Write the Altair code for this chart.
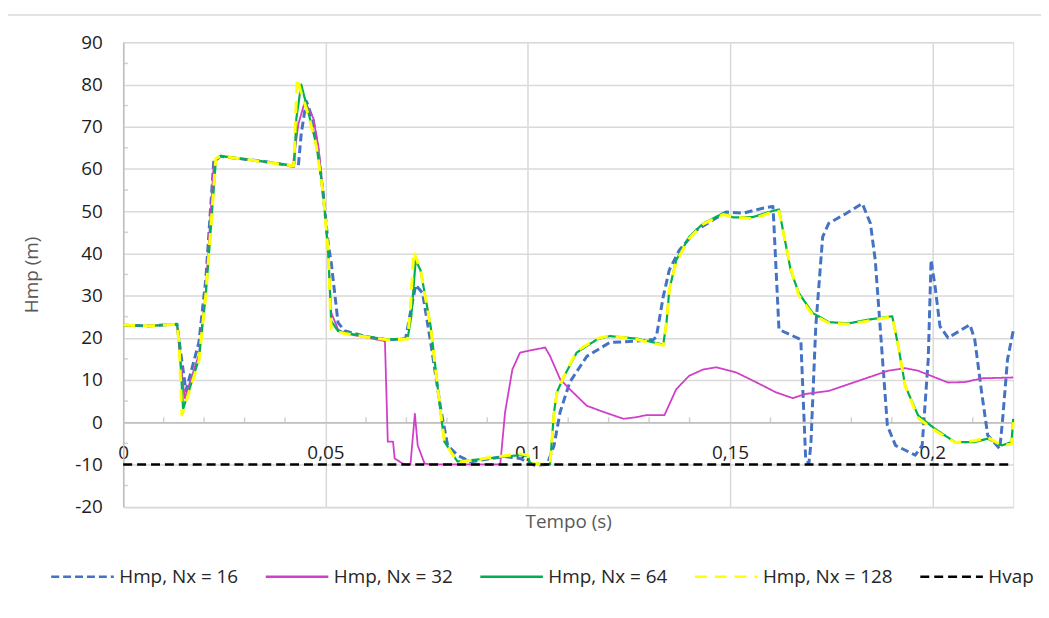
import altair as alt
import pandas as pd

FONT = "Open Sans"
FS = 19

names = ["Hmp, Nx = 16", "Hmp, Nx = 32", "Hmp, Nx = 64", "Hmp, Nx = 128", "Hvap"]
colors = ["#4472C4", "#D03FC8", "#00B050", "#FFFF00", "#000000"]
dashes = [[8, 4], [1, 0], [1, 0], [12, 8], [9, 5]]
widths = [3, 1.8, 2.2, 3, 2.5]

x_ticks = [0, 0.05, 0.1, 0.15, 0.2]
x_minor = [0.01, 0.02, 0.03, 0.04, 0.06, 0.07, 0.08, 0.09, 0.11, 0.12, 0.13, 0.14,
           0.16, 0.17, 0.18, 0.19, 0.21]
y_ticks = [-20, -10, 0, 10, 20, 30, 40, 50, 60, 70, 80, 90]
y_minor = [-15, -5, 5, 15, 25, 35, 45, 55, 65, 75, 85]

t16 = [0, 0.006, 0.0133, 0.0140, 0.0155, 0.0187, 0.0204, 0.0224, 0.0241, 0.030,
       0.036, 0.0421, 0.0433, 0.0440, 0.0450, 0.0453, 0.0470, 0.0482, 0.0494, 0.0507,
       0.0514, 0.0531, 0.0548, 0.060, 0.0654, 0.0698, 0.0710, 0.0723, 0.0740, 0.0760,
       0.0785, 0.0802, 0.0826, 0.0858, 0.0942, 0.0981, 0.1016, 0.1048, 0.1065, 0.1080,
       0.1104, 0.1146, 0.1203, 0.1269, 0.1311, 0.1318, 0.1335, 0.1350, 0.1375, 0.1417,
       0.1490, 0.1532, 0.1581, 0.1606, 0.1608, 0.1621, 0.1638, 0.1675, 0.1687, 0.1695,
       0.1700, 0.1712, 0.1729, 0.1744, 0.1786, 0.1827, 0.1847, 0.1859, 0.1877, 0.1889,
       0.1909, 0.1958, 0.1975, 0.1990, 0.1997, 0.2007, 0.2019, 0.2039, 0.2093, 0.2105,
       0.2122, 0.2137, 0.2167, 0.2174, 0.2186, 0.22]
h16 = [23.0, 22.8, 23.2, 18.0, 7.4, 18.9, 33.7, 62.0, 63.0, 62.3,
       61.6, 60.6, 60.8, 68.3, 74.5, 76.0, 71.4, 64.3, 54.1, 42.0,
       38.0, 23.6, 21.6, 20.3, 19.5, 19.8, 26.0, 32.5, 30.6, 18.9,
       3.1, -5.5, -7.8, -9.4, -8.1, -8.6, -10.2, -10.0, -5.5, 2.4,
       9.5, 15.6, 18.9, 19.2, 19.6, 20.3, 29.8, 36.1, 40.8, 45.5,
       49.8, 49.5, 50.7, 51.1, 47.8, 22.0, 21.2, 19.6, -8.6, -9.8,
       -5.0, 22.7, 43.9, 47.1, 49.4, 51.8, 47.1, 38.4, 14.9, -0.8,
       -5.5, -7.8, -5.5, 14.9, 38.4, 32.1, 22.7, 20.0, 23.1, 19.6,
       7.1, -3.1, -6.3, 0.8, 14.9, 21.6]

t32 = [0, 0.006, 0.0133, 0.0140, 0.0152, 0.0187, 0.0204, 0.0224, 0.0241, 0.030,
       0.036, 0.0419, 0.0433, 0.0449, 0.0470, 0.0482, 0.0494, 0.0507, 0.0514, 0.0531,
       0.0548, 0.060, 0.0647, 0.0654, 0.0667, 0.0671, 0.0691, 0.0698, 0.0710, 0.0721,
       0.0728, 0.0745, 0.0760, 0.0932, 0.0944, 0.0962, 0.0981, 0.1016, 0.1043, 0.1055,
       0.1080, 0.1104, 0.1146, 0.1188, 0.1237, 0.1269, 0.1294, 0.1338, 0.1367, 0.1399,
       0.1434, 0.1466, 0.1515, 0.1564, 0.1613, 0.1655, 0.1687, 0.1744, 0.1793, 0.1842,
       0.1891, 0.1933, 0.1965, 0.2007, 0.2039, 0.2081, 0.2122, 0.22]
h32 = [23.0, 22.8, 23.2, 16.0, 5.7, 16.0, 31.0, 61.5, 63.0, 62.3,
       61.6, 60.6, 70.6, 76.0, 72.0, 65.5, 55.0, 40.0, 26.0, 22.0,
       21.0, 20.1, 19.2, -4.6, -4.6, -8.6, -9.8, -10.0, -10.0, 2.0,
       -5.5, -9.8, -10.0, -10.0, 2.4, 12.5, 16.5, 17.2, 17.7, 15.7,
       10.2, 7.8, 3.9, 2.4, 0.8, 1.2, 1.7, 1.7, 7.8, 11.0,
       12.5, 13.0, 11.8, 9.5, 7.1, 5.7, 6.7, 7.4, 9.0, 10.6,
       12.2, 12.8, 12.2, 10.6, 9.4, 9.5, 10.4, 10.6]

t64 = [0, 0.006, 0.0133, 0.0138, 0.0148, 0.0187, 0.0204, 0.0212, 0.0229, 0.0241,
       0.030, 0.036, 0.0421, 0.0423, 0.0428, 0.0440, 0.0457, 0.0477, 0.0494, 0.0507,
       0.0514, 0.0531, 0.0548, 0.060, 0.0654, 0.0703, 0.0712, 0.0723, 0.0735, 0.0760,
       0.0785, 0.0794, 0.0826, 0.090, 0.098, 0.1000, 0.1006, 0.1055, 0.1065, 0.1072,
       0.1090, 0.1121, 0.1171, 0.1203, 0.1269, 0.1335, 0.1343, 0.1350, 0.1367, 0.1399,
       0.1434, 0.1483, 0.1508, 0.1557, 0.1596, 0.1621, 0.1638, 0.1650, 0.1670, 0.1704,
       0.1744, 0.1793, 0.1842, 0.1901, 0.1916, 0.1933, 0.1965, 0.2007, 0.2056, 0.2105,
       0.2137, 0.2172, 0.2196, 0.22]
h64 = [23.0, 22.8, 23.2, 20.0, 3.1, 14.9, 30.0, 40.0, 62.0, 63.1,
       62.3, 61.6, 60.8, 61.2, 72.0, 80.0, 73.7, 65.9, 54.9, 40.0,
       24.0, 21.6, 21.2, 20.3, 19.6, 19.8, 25.0, 38.4, 36.0, 22.7,
       2.0, -4.6, -9.3, -8.6, -7.8, -8.0, -9.8, -10.0, 2.4, 7.1,
       10.9, 16.5, 19.6, 20.4, 19.8, 18.4, 23.6, 31.4, 38.4, 43.9,
       47.1, 49.5, 48.5, 48.6, 49.8, 50.4, 42.0, 36.0, 30.6, 25.9,
       23.7, 23.4, 24.3, 25.1, 18.0, 8.6, 1.6, -1.6, -4.7, -4.7,
       -3.9, -5.5, -4.7, 0.8]

t128 = [0, 0.006, 0.0133, 0.0138, 0.0145, 0.0187, 0.0204, 0.0212, 0.0229, 0.0241,
        0.030, 0.036, 0.0421, 0.0423, 0.0430, 0.0440, 0.0457, 0.0477, 0.0494, 0.0507,
        0.0514, 0.0531, 0.0548, 0.060, 0.0654, 0.0703, 0.0710, 0.0718, 0.0735, 0.0760,
        0.0785, 0.0794, 0.0826, 0.090, 0.098, 0.1000, 0.1006, 0.1055, 0.1065, 0.1072,
        0.1090, 0.1121, 0.1171, 0.1203, 0.1269, 0.1335, 0.1343, 0.1350, 0.1367, 0.1399,
        0.1434, 0.1483, 0.1508, 0.1557, 0.1596, 0.1621, 0.1638, 0.1650, 0.1670, 0.1704,
        0.1744, 0.1793, 0.1842, 0.1901, 0.1916, 0.1933, 0.1965, 0.2007, 0.2056, 0.2105,
        0.2137, 0.2172, 0.2196, 0.22]
h128 = [23.0, 22.8, 23.2, 19.0, 1.7, 14.5, 30.0, 40.0, 62.5, 63.0,
        62.3, 61.5, 60.7, 64.0, 81.5, 78.0, 73.0, 65.5, 54.5, 40.0,
        22.0, 21.4, 21.0, 20.2, 19.5, 19.7, 27.0, 40.5, 36.0, 22.5,
        2.0, -4.6, -9.5, -8.5, -7.5, -7.8, -9.8, -10.0, 2.0, 7.0,
        11.0, 16.8, 19.8, 20.5, 19.6, 18.2, 23.6, 31.4, 38.0, 43.5,
        47.0, 49.2, 48.6, 48.2, 49.5, 50.0, 42.0, 36.5, 30.0, 25.5,
        23.5, 23.2, 24.0, 25.0, 18.0, 8.6, 1.0, -2.0, -4.8, -4.4,
        -3.6, -5.5, -5.2, 0.0]

t_vap = [0, 0.22]
h_vap = [-10, -10]

series_t = [t16, t32, t64, t128, t_vap]
series_h = [h16, h32, h64, h128, h_vap]

W, H = 896, 467.5
GRID = "#d9d9d9"
AXIS = "#bfbfbf"

xscale = alt.Scale(domain=[0, 0.22], nice=False, zero=False)
yscale = alt.Scale(domain=[-20, 90], nice=False, zero=False)

y_axis = alt.Axis(
    values=y_ticks, title="Hmp (m)", grid=True, gridColor=GRID, gridWidth=1.5,
    domainColor=AXIS, domainWidth=1.5, ticks=False, tickSize=0,
    format="d", labelExpr="replace(datum.label, '\u2212', '-')",
    labelPadding=21, labelFont=FONT, labelFontSize=FS, labelColor="#1e1e1e",
    titleFont=FONT, titleFontSize=FS, titleFontWeight="normal", titleColor="#595959",
    titlePadding=33)
y_enc = alt.Y("H:Q", scale=yscale, axis=y_axis)

axis_grid = alt.Axis(values=x_ticks, grid=True, gridColor=GRID, gridWidth=1.5,
                     labels=False, ticks=False, domain=False, title=None, orient="bottom")
axis_lab = alt.Axis(values=x_ticks, grid=False, orient="bottom", offset=-85,
                    domainColor=AXIS, domainWidth=1.5, ticks=False, tickSize=0,
                    format="~g", labelExpr="replace(datum.label, '.', ',')",
                    labelPadding=21.5, labelFont=FONT, labelFontSize=FS, labelColor="#1e1e1e",
                    labelOverlap=False, labelFlush=False,
                    title="Tempo (s)", titleFont=FONT, titleFontSize=FS,
                    titleFontWeight="normal", titleColor="#595959", titlePadding=51)

legend = alt.Legend(orient="none", legendX=-74, legendY=505, direction="horizontal",
                    title=None, symbolType="stroke", symbolSize=3969,
                    symbolStrokeWidth=2.5, labelFont=FONT, labelFontSize=FS,
                    labelColor="#262626", columnPadding=22, labelOffset=4)

color_enc = alt.Color("serie:N", scale=alt.Scale(domain=names, range=colors),
                      legend=legend, title=None)
dash_enc = alt.StrokeDash("serie:N", scale=alt.Scale(domain=names, range=dashes),
                          legend=legend, title=None)

layers = []

# frame of the whole chart (decoration)
frame = alt.Chart(alt.Data(values=[{"k": 0}])).mark_rect(
    filled=False, stroke=GRID, strokeWidth=1.5).encode(
    x=alt.value(-117), x2=alt.value(3000), y=alt.value(-27.5), y2=alt.value(3000))
layers.append(frame)

# grid axis layer
grid_df = pd.DataFrame({"t": x_ticks, "H": [0] * len(x_ticks)})
layers.append(alt.Chart(grid_df).mark_point(opacity=0).encode(
    x=alt.X("t:Q", scale=xscale, axis=axis_grid), y=y_enc))

# minor ticks
xm_df = pd.DataFrame({"t": x_minor})
layers.append(alt.Chart(xm_df).mark_tick(orient="vertical", size=5, thickness=1.5,
                                         color=AXIS, yOffset=-2.5).encode(
    x=alt.X("t:Q", scale=xscale, axis=None),
    y=alt.YDatum(0, scale=yscale, axis=y_axis)))
ym_df = pd.DataFrame({"H": y_minor})
layers.append(alt.Chart(ym_df).mark_tick(orient="horizontal", size=5, thickness=1.5,
                                         color=AXIS, xOffset=2.5).encode(
    y=y_enc, x=alt.XDatum(0, scale=xscale, axis=None)))

for i, (name, ts, hs) in enumerate(zip(names, series_t, series_h)):
    df = pd.DataFrame({"t": ts, "H": hs})
    df["serie"] = name
    xax = axis_lab if i == 0 else None
    layers.append(alt.Chart(df).mark_line(strokeWidth=widths[i], strokeCap="butt",
                                          strokeJoin="round").encode(
        x=alt.X("t:Q", scale=xscale, axis=xax),
        y=y_enc, color=color_enc, strokeDash=dash_enc))

chart = alt.layer(*layers).resolve_axis(x="independent").properties(
    width=W, height=H,
    autosize=alt.AutoSizeParams(type="none"),
    padding={"left": 116, "top": 32.5, "right": 28, "bottom": 95},
).configure_view(stroke=GRID, strokeWidth=1.5).configure(background="white")

chart.save("out.html", embed_options={"renderer": "svg", "actions": False})
